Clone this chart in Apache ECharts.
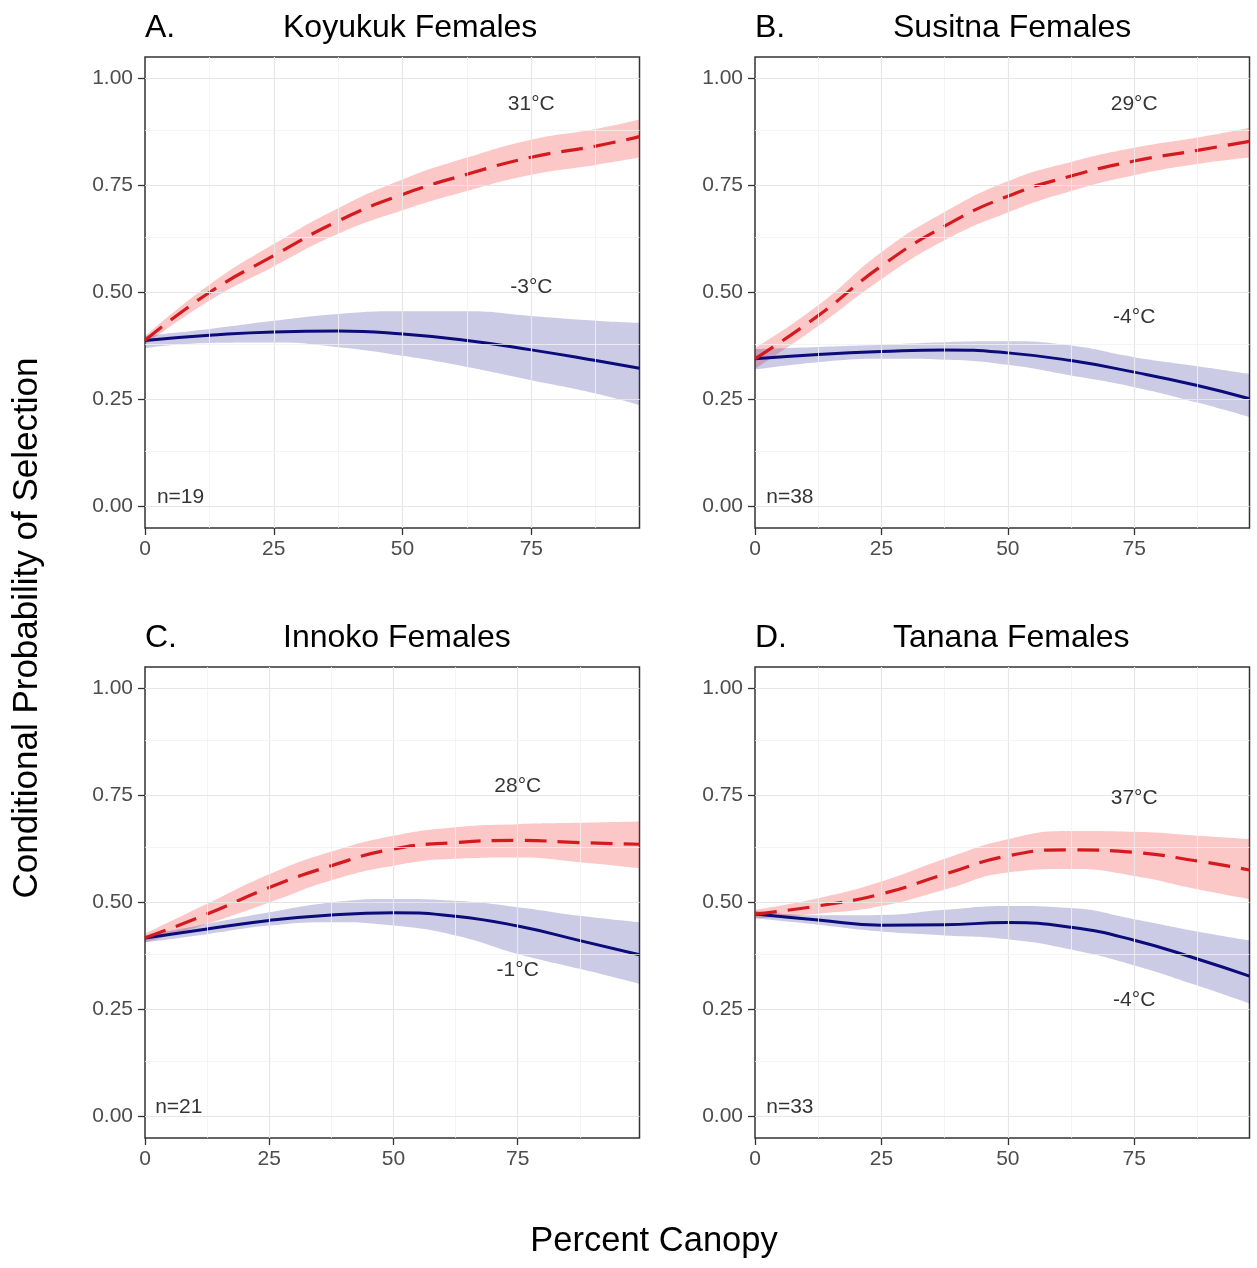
<!DOCTYPE html>
<html>
<head>
<meta charset="UTF-8">
<title>Conditional Probability of Selection</title>
<script src="https://cdn.jsdelivr.net/npm/echarts@6/dist/echarts.min.js"></script>
<style>
html, body { margin: 0; padding: 0; background: #fff; }
#container { width: 1257px; height: 1268px; }
</style>
</head>
<body>
<div id="container"></div>
<script>
// panel names / sample sizes
var panelLetters = ['A.', 'B.', 'C.', 'D.'];
var panelNames = ['Koyukuk Females', 'Susitna Females', 'Innoko Females', 'Tanana Females'];
var sampleSizes = ['n=19', 'n=38', 'n=21', 'n=33'];
var hotTemps = ['31°C', '29°C', '28°C', '37°C'];
var coldTemps = ['-3°C', '-4°C', '-1°C', '-4°C'];

// axis ticks + grid lines
var xTicks = [0, 25, 50, 75];
var yTicks = [0, 0.25, 0.5, 0.75, 1];
var xMajor = [25, 50, 75];
var xMinor = [12.5, 37.5, 62.5, 87.5];
var yMajor = [0, 0.25, 0.5, 0.75, 1];
var yMinor = [0.125, 0.375, 0.625, 0.875];

// x range of each panel
var xMax = [96, 97.8, 99.5, 97.8];

// percent canopy where curves were read
var xKoyukuk = [0, 12.5, 25, 37.5, 50, 62.5, 75, 87.5, 96];
var xSusitna = [0, 12.5, 25, 37.5, 50, 62.5, 75, 87.5, 97.8];
var xInnoko  = [0, 12.5, 25, 37.5, 50, 62.5, 75, 87.5, 99.5];
var xTanana  = [0, 12.5, 25, 37.5, 50, 62.5, 75, 87.5, 97.8];

// A. Koyukuk
var koyukukHot     = [0.388, 0.500, 0.586, 0.667, 0.729, 0.776, 0.816, 0.842, 0.864];
var koyukukHotLo   = [0.378, 0.481, 0.561, 0.637, 0.692, 0.737, 0.775, 0.798, 0.815];
var koyukukHotHi   = [0.398, 0.518, 0.613, 0.697, 0.764, 0.815, 0.857, 0.882, 0.904];
var koyukukCold    = [0.388, 0.400, 0.408, 0.410, 0.403, 0.388, 0.366, 0.341, 0.323];
var koyukukColdLo  = [0.370, 0.382, 0.383, 0.372, 0.352, 0.326, 0.295, 0.264, 0.237];
var koyukukColdHi  = [0.399, 0.415, 0.434, 0.450, 0.456, 0.456, 0.445, 0.434, 0.429];

// B. Susitna
var susitnaHot     = [0.345, 0.446, 0.562, 0.655, 0.725, 0.772, 0.807, 0.832, 0.853];
var susitnaHotLo   = [0.322, 0.422, 0.531, 0.622, 0.687, 0.737, 0.774, 0.800, 0.815];
var susitnaHotHi   = [0.370, 0.470, 0.594, 0.688, 0.760, 0.805, 0.838, 0.862, 0.885];
var susitnaCold    = [0.345, 0.355, 0.362, 0.366, 0.359, 0.341, 0.314, 0.283, 0.252];
var susitnaColdLo  = [0.320, 0.337, 0.345, 0.343, 0.331, 0.306, 0.279, 0.243, 0.209];
var susitnaColdHi  = [0.368, 0.373, 0.378, 0.384, 0.386, 0.376, 0.349, 0.328, 0.310];

// C. Innoko
var innokoHot      = [0.417, 0.473, 0.535, 0.586, 0.625, 0.640, 0.645, 0.640, 0.636];
var innokoHotLo    = [0.407, 0.450, 0.500, 0.552, 0.586, 0.602, 0.605, 0.594, 0.580];
var innokoHotHi    = [0.427, 0.497, 0.566, 0.619, 0.656, 0.676, 0.683, 0.686, 0.689];
var innokoCold     = [0.417, 0.438, 0.458, 0.471, 0.476, 0.468, 0.445, 0.411, 0.378];
var innokoColdLo   = [0.407, 0.426, 0.446, 0.454, 0.446, 0.423, 0.380, 0.345, 0.310];
var innokoColdHi   = [0.423, 0.450, 0.477, 0.500, 0.508, 0.504, 0.489, 0.469, 0.454];

// D. Tanana
var tananaHot      = [0.473, 0.492, 0.520, 0.566, 0.609, 0.623, 0.617, 0.597, 0.576];
var tananaHotLo    = [0.463, 0.474, 0.492, 0.530, 0.570, 0.578, 0.562, 0.531, 0.508];
var tananaHotHi    = [0.483, 0.510, 0.549, 0.602, 0.648, 0.667, 0.665, 0.656, 0.648];
var tananaCold     = [0.473, 0.459, 0.447, 0.448, 0.453, 0.442, 0.412, 0.368, 0.328];
var tananaColdLo   = [0.463, 0.448, 0.432, 0.423, 0.414, 0.390, 0.353, 0.306, 0.264];
var tananaColdHi   = [0.481, 0.470, 0.471, 0.483, 0.492, 0.487, 0.461, 0.432, 0.411];

// label anchors [x, y] in data units
var hotLabelPos  = [[75, 0.940], [75, 0.940], [75, 0.772], [75, 0.743]];
var coldLabelPos = [[75, 0.512], [75, 0.442], [75, 0.343], [75, 0.271]];
var nLabelPos    = [[6.9, 0.021], [6.9, 0.021], [6.8, 0.021], [6.9, 0.021]];

var panels = [
  { x: xKoyukuk, hot: koyukukHot, hotLo: koyukukHotLo, hotHi: koyukukHotHi, cold: koyukukCold, coldLo: koyukukColdLo, coldHi: koyukukColdHi },
  { x: xSusitna, hot: susitnaHot, hotLo: susitnaHotLo, hotHi: susitnaHotHi, cold: susitnaCold, coldLo: susitnaColdLo, coldHi: susitnaColdHi },
  { x: xInnoko,  hot: innokoHot,  hotLo: innokoHotLo,  hotHi: innokoHotHi,  cold: innokoCold,  coldLo: innokoColdLo,  coldHi: innokoColdHi },
  { x: xTanana,  hot: tananaHot,  hotLo: tananaHotLo,  hotHi: tananaHotHi,  cold: tananaCold,  coldLo: tananaColdLo,  coldHi: tananaColdHi }
];

var FONT = '"Liberation Sans", Arial, sans-serif';
var RED = '#D51A1F', RED_FILL = 'rgba(238,40,40,0.26)';
var BLUE = '#0B0B7A', BLUE_FILL = 'rgba(20,20,140,0.22)';

// plot boxes
var boxes = [
  { left: 145, top: 57 },
  { left: 755, top: 57 },
  { left: 145, top: 667 },
  { left: 755, top: 667 }
];
var boxW = 494.5, boxH = 471;

// rows are [y, x] so that stacking works on the y values
function rows(xs, ys) {
  return xs.map(function (x, i) { return [ys[i], x]; });
}
function diffRows(xs, lo, hi) {
  return xs.map(function (x, i) { return [hi[i] - lo[i], x]; });
}

var grids = [], xAxes = [], yAxes = [], series = [], graphics = [];

boxes.forEach(function (b, i) {
  grids.push({
    left: b.left, top: b.top, width: boxW, height: boxH,
    show: true, borderColor: '#333', borderWidth: 1.5, backgroundColor: '#fff'
  });
  xAxes.push({
    type: 'value', gridIndex: i, min: 0, max: xMax[i],
    axisLine: { show: false, onZero: false },
    splitLine: { show: false },
    axisTick: { show: true, length: 7, customValues: xTicks, lineStyle: { color: '#333', width: 1.3 } },
    axisLabel: { customValues: xTicks, color: '#4D4D4D', fontSize: 21, fontFamily: FONT, margin: 11 }
  });
  yAxes.push({
    type: 'value', gridIndex: i, min: -0.05, max: 1.05,
    axisLine: { show: false, onZero: false },
    splitLine: { show: false },
    axisTick: { show: true, length: 7, customValues: yTicks, lineStyle: { color: '#333', width: 1.3 } },
    axisLabel: {
      customValues: yTicks, color: '#4D4D4D', fontSize: 21, fontFamily: FONT, margin: 12,
      formatter: function (v) { return v.toFixed(2); }
    }
  });

  // background grid lines
  var gl = [];
  xMajor.forEach(function (v) { gl.push({ xAxis: v, lineStyle: { color: '#E6E6E6', width: 1.2, type: 'solid' } }); });
  xMinor.forEach(function (v) { gl.push({ xAxis: v, lineStyle: { color: '#F1F1F1', width: 0.8, type: 'solid' } }); });
  yMajor.forEach(function (v) { gl.push({ yAxis: v, lineStyle: { color: '#E6E6E6', width: 1.2, type: 'solid' } }); });
  yMinor.forEach(function (v) { gl.push({ yAxis: v, lineStyle: { color: '#F1F1F1', width: 0.8, type: 'solid' } }); });
  series.push({
    type: 'line', xAxisIndex: i, yAxisIndex: i, data: [], z: 1,
    markLine: { silent: true, symbol: ['none', 'none'], label: { show: false }, animation: false, data: gl }
  });

  var p = panels[i];
  var common = {
    type: 'line', xAxisIndex: i, yAxisIndex: i, smooth: 0.5, symbol: 'none', silent: true,
    encode: { x: 1, y: 0 }
  };

  // confidence ribbons (stacked: lower edge + width)
  [['hot', p.hotLo, p.hotHi, RED_FILL], ['cold', p.coldLo, p.coldHi, BLUE_FILL]].forEach(function (r) {
    series.push(Object.assign({}, common, {
      stack: r[0] + i, z: 2, data: rows(p.x, r[1]), lineStyle: { opacity: 0 }
    }));
    series.push(Object.assign({}, common, {
      stack: r[0] + i, z: 2, data: diffRows(p.x, r[1], r[2]),
      lineStyle: { opacity: 0 }, areaStyle: { color: r[3], opacity: 1 }
    }));
  });

  // fitted curves
  series.push(Object.assign({}, common, {
    z: 3, data: rows(p.x, p.cold), lineStyle: { color: BLUE, width: 3 }
  }));
  series.push(Object.assign({}, common, {
    z: 4, data: rows(p.x, p.hot), lineStyle: { color: RED, width: 3.2, type: [22, 11], cap: 'butt' }
  }));

  // text annotations
  series.push({
    type: 'scatter', xAxisIndex: i, yAxisIndex: i, z: 5, silent: true,
    symbolSize: 1, itemStyle: { color: 'rgba(0,0,0,0)' },
    label: {
      show: true, position: 'inside', color: '#000', fontSize: 21, fontFamily: FONT,
      formatter: function (d) { return d.value[2]; }
    },
    data: [
      [hotLabelPos[i][0], hotLabelPos[i][1], hotTemps[i]],
      [coldLabelPos[i][0], coldLabelPos[i][1], coldTemps[i]],
      [nLabelPos[i][0], nLabelPos[i][1], sampleSizes[i]]
    ]
  });

  // panel titles
  graphics.push({
    type: 'text', x: b.left, y: b.top - 29,
    style: { text: panelLetters[i], fill: '#000', font: '32px ' + FONT, textAlign: 'left', textVerticalAlign: 'middle' }
  });
  graphics.push({
    type: 'text', x: b.left + 138, y: b.top - 29,
    style: { text: panelNames[i], fill: '#000', font: '32px ' + FONT, textAlign: 'left', textVerticalAlign: 'middle' }
  });
});

graphics.push({
  type: 'text', x: 27, y: 628, rotation: Math.PI / 2,
  style: { text: 'Conditional Probability of Selection', fill: '#000', font: '35px ' + FONT, textAlign: 'center', textVerticalAlign: 'middle' }
});
graphics.push({
  type: 'text', x: 654, y: 1241,
  style: { text: 'Percent Canopy', fill: '#000', font: '34.5px ' + FONT, textAlign: 'center', textVerticalAlign: 'middle' }
});

var dom = document.getElementById('container');
var myChart = echarts.init(dom, null, { renderer: 'canvas' });
var option = {
  backgroundColor: '#fff',
  animation: false,
  grid: grids,
  xAxis: xAxes,
  yAxis: yAxes,
  series: series,
  graphic: graphics
};
myChart.setOption(option);
</script>
</body>
</html>
